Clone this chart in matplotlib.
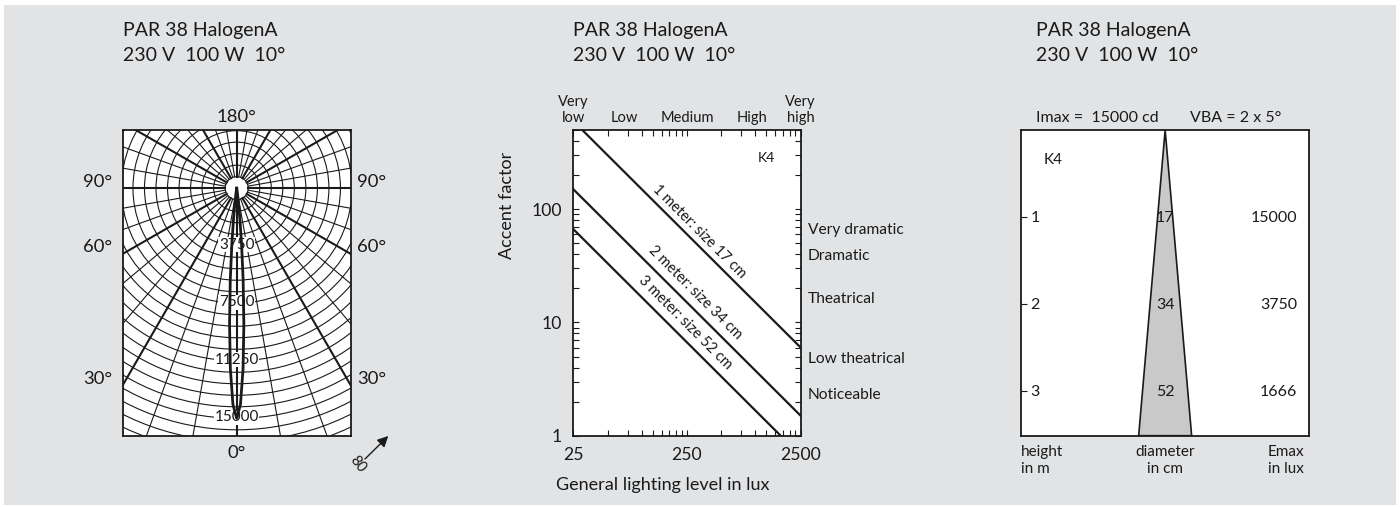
import numpy as np
import matplotlib
matplotlib.use("Agg")
import matplotlib.pyplot as plt
from matplotlib.patches import Rectangle, Polygon, Circle
from matplotlib.ticker import FixedLocator, NullFormatter, FixedFormatter
from matplotlib.transforms import blended_transform_factory

plt.rcParams['font.family'] = ['Lato', 'DejaVu Sans']

# ---------------- data ----------------
title_line1 = "PAR 38 HalogenA"
title_line2 = "230 V  100 W  10\u00b0"

# polar intensity distribution (angle from beam axis, candela)
lobe_angle_deg = [0, 1, 2, 3, 4, 5, 6, 7, 8, 9, 10]
lobe_cd = [15000, 14100, 11800, 8900, 6000, 3600, 1900, 900, 400, 150, 0]
ring_labels_cd = [3750, 7500, 11250, 15000]
ring_step_cd = 750

# accent lighting chart
general_lux = [25, 2500]
emax_lux = [15000, 3750, 1666]
distance_labels = ["1 meter: size 17 cm", "2 meter: size 34 cm", "3 meter: size 52 cm"]
level_names = [["Very", "low"], ["Low"], ["Medium"], ["High"], ["Very", "high"]]
level_lux = [25, 70, 250, 930, 2500]
accent_names = ["Very dramatic", "Dramatic", "Theatrical", "Low theatrical", "Noticeable"]

# beam cone chart
heights_m = [1, 2, 3]
diameters_cm = [17, 34, 52]
imax_text = "Imax =  15000 cd"
vba_text = "VBA = 2 x 5\u00b0"

# ---------------- figure ----------------
W, H = 1400, 507
fig = plt.figure(figsize=(14, 5.07), dpi=100)


def fx(px):
    return px / W


def fy(py):
    return 1 - py / H


bg = Rectangle((fx(4), fy(505)), fx(1396) - fx(4), fy(5) - fy(505),
               transform=fig.transFigure, facecolor='#e2e3e5',
               edgecolor='none', zorder=-10)
fig.patches.append(bg)

ink = '#1a1a1a'
AX_B, AX_H = fy(435.7), (435.7 - 130) / H

# ---------- titles ----------
for x0 in (123, 573, 1036):
    fig.text(fx(x0), fy(35.7), title_line1, fontsize=14, va='baseline', ha='left', color=ink)
    fig.text(fx(x0), fy(60.7), title_line2, fontsize=14, va='baseline', ha='left', color=ink)

# ---------- left: polar diagram ----------
ax1 = fig.add_axes([fx(122.7), AX_B, (350.7 - 122.7) / W, AX_H])
ax1.set_facecolor('white')
ax1.set_xlim(-7417, 7417)
ax1.set_ylim(-16135, 3793)
ax1.set_xticks([])
ax1.set_yticks([])
for s in ax1.spines.values():
    s.set_linewidth(1.3)
    s.set_color(ink)

r_in = ring_step_cd
r_out = 22000
for a in range(0, 360, 10):
    t = np.deg2rad(a)
    lw = 1.5 if a % 30 == 0 else 0.8
    ax1.plot([r_in * np.sin(t), r_out * np.sin(t)], [-r_in * np.cos(t), -r_out * np.cos(t)],
             color=ink, lw=lw, zorder=1)
for r in np.arange(ring_step_cd, 20000, ring_step_cd):
    ax1.add_patch(Circle((0, 0), r, fill=False, lw=0.8, ec=ink, zorder=1))

th = np.deg2rad(np.array(lobe_angle_deg, dtype=float))
I = np.array(lobe_cd, dtype=float)
th_full = np.concatenate([-th[::-1], th[1:]])
I_full = np.concatenate([I[::-1], I[1:]])
ax1.plot(I_full * np.sin(th_full), -I_full * np.cos(th_full), color=ink, lw=2.0, zorder=4)

for r in ring_labels_cd:
    ax1.text(0, -(r + 200), f"{r}", ha='center', va='baseline', fontsize=11, color=ink,
             zorder=3, bbox=dict(facecolor='white', edgecolor='none', pad=0.3))

# angle labels
fig.text(fx(236.7), fy(121.7), "180\u00b0", ha='center', va='baseline', fontsize=13.3, color=ink)
fig.text(fx(236.7), fy(458.3), "0\u00b0", ha='center', va='baseline', fontsize=13.3, color=ink)
for lab, yb in (("90\u00b0", 186.7), ("60\u00b0", 251.7), ("30\u00b0", 384)):
    fig.text(fx(97.5), fy(yb), lab, ha='center', va='baseline', fontsize=13.3, color=ink)
    fig.text(fx(372), fy(yb), lab, ha='center', va='baseline', fontsize=13.3, color=ink)

# distance arrow
fig.add_artist(matplotlib.patches.FancyArrowPatch(
    (fx(365), fy(459)), (fx(388.3), fy(436)), transform=fig.transFigure,
    arrowstyle='-|>', color=ink, lw=1.0, mutation_scale=16, shrinkA=0, shrinkB=0))
fig.text(fx(358), fy(464), "80", ha='center', va='center', fontsize=10.5, rotation=-52, color=ink)

# ---------- middle: accent factor chart ----------
ax2 = fig.add_axes([fx(573.3), AX_B, (800.7 - 573.3) / W, AX_H])
ax2.set_facecolor('white')
ax2.set_xscale('log')
ax2.set_yscale('log')
ax2.set_xlim(25, 2500)
ax2.set_ylim(1, 500)
for s in ax2.spines.values():
    s.set_linewidth(1.3)
    s.set_color(ink)

ax2.xaxis.set_major_locator(FixedLocator([25, 250, 2500]))
ax2.xaxis.set_major_formatter(FixedFormatter(["25", "250", "2500"]))
ax2.xaxis.set_minor_locator(FixedLocator([25 * k for k in range(2, 10)] + [250 * k for k in range(2, 10)]))
ax2.xaxis.set_minor_formatter(NullFormatter())
ax2.yaxis.set_major_locator(FixedLocator([1, 10, 100]))
ax2.yaxis.set_major_formatter(FixedFormatter(["1", "10", "100"]))
ax2.yaxis.set_minor_locator(FixedLocator(list(range(2, 10)) + list(range(20, 100, 10)) + list(range(200, 600, 100))))
ax2.yaxis.set_minor_formatter(NullFormatter())
ax2.tick_params(which='both', direction='in', top=True, right=True, length=4, width=0.8,
                color=ink, labelsize=12.7, labelcolor=ink, pad=8)

for e in emax_lux:
    ax2.plot(general_lux, [e / x for x in general_lux], color=ink, lw=1.6, zorder=3)

label_pos = [(319, 63.4), (294, 18.3), (240, 9.9)]
for (lx, ly), lab in zip(label_pos, distance_labels):
    ax2.text(lx, ly, lab, rotation=-45, rotation_mode='anchor', ha='center', va='center',
             fontsize=10.5, color=ink)
ax2.text(1255, 281, "K4", ha='center', va='center', fontsize=10, color=ink)

bt = blended_transform_factory(ax2.transData, fig.transFigure)
for lux, names in zip(level_lux, level_names):
    if len(names) == 2:
        ax2.text(lux, fy(106), names[0], transform=bt, ha='center', va='baseline', fontsize=10.5, color=ink)
        ax2.text(lux, fy(121.7), names[1], transform=bt, ha='center', va='baseline', fontsize=10.5, color=ink)
    else:
        ax2.text(lux, fy(121.7), names[0], transform=bt, ha='center', va='baseline', fontsize=10.5, color=ink)

for lab, yb in zip(accent_names, [234, 260, 302.7, 362.7, 399.3]):
    fig.text(fx(808), fy(yb), lab, ha='left', va='baseline', fontsize=11.2, color=ink)

fig.text(fx(507), fy(205), "Accent factor", rotation=90, ha='center', va='center', fontsize=13, color=ink)
fig.text(fx(663), fy(485), "General lighting level in lux", ha='center', va='center', fontsize=13, color=ink)

# ---------- right: beam cone ----------
ax3 = fig.add_axes([fx(1021), AX_B, (1309.3 - 1021) / W, AX_H])
ax3.set_facecolor('white')
ax3.set_xlim(-166, 166)
h_bottom = 3.52
ax3.set_ylim(h_bottom, 0)
for s in ax3.spines.values():
    s.set_linewidth(1.3)
    s.set_color(ink)
ax3.set_xticks([])
ax3.yaxis.set_major_locator(FixedLocator(heights_m))
ax3.yaxis.set_major_formatter(NullFormatter())
ax3.tick_params(axis='y', direction='in', length=4, width=0.8, color=ink)

spread = diameters_cm[-1] / heights_m[-1]
hw = 0.5 * spread * h_bottom
ax3.add_patch(Polygon([(0, 0), (-hw, h_bottom), (hw, h_bottom)], closed=True,
                      facecolor='#c9c9c9', edgecolor=ink, lw=1.2, zorder=2))

for h, d, e in zip(heights_m, diameters_cm, emax_lux):
    ax3.text(-150, h, f"{h}", ha='center', va='center_baseline', fontsize=11.5, color=ink, zorder=3)
    ax3.text(0, h, f"{d}", ha='center', va='center_baseline', fontsize=11.5, color=ink, zorder=3)
    ax3.text(152, h, f"{e}", ha='right', va='center_baseline', fontsize=11.5, color=ink, zorder=3)
ax3.text(-129, 0.33, "K4", ha='center', va='center_baseline', fontsize=11, color=ink)

fig.text(fx(1036), fy(122.3), imax_text, ha='left', va='baseline', fontsize=11.5, color=ink)
fig.text(fx(1190), fy(122.3), vba_text, ha='left', va='baseline', fontsize=11.5, color=ink)

fig.text(fx(1021), fy(456), "height", ha='left', va='baseline', fontsize=11, color=ink)
fig.text(fx(1021), fy(473.3), "in m", ha='left', va='baseline', fontsize=11, color=ink)
fig.text(fx(1165), fy(456), "diameter", ha='center', va='baseline', fontsize=11, color=ink)
fig.text(fx(1165), fy(473.3), "in cm", ha='center', va='baseline', fontsize=11, color=ink)
fig.text(fx(1267.7), fy(456), "Emax", ha='left', va='baseline', fontsize=11, color=ink)
fig.text(fx(1267.7), fy(473.3), "in lux", ha='left', va='baseline', fontsize=11, color=ink)

fig.savefig("out.png", dpi=100, facecolor='white')
